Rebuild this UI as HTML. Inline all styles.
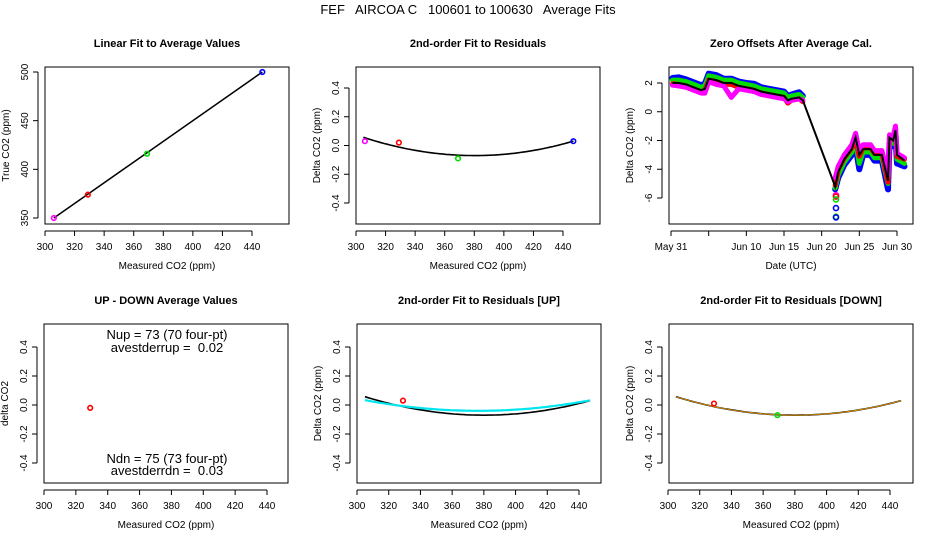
<!DOCTYPE html>
<html><head><meta charset="utf-8"><style>
body{margin:0;background:#fff}
svg{font-family:"Liberation Sans",sans-serif;display:block}
</style></head><body>
<svg id="c" width="936" height="540"></svg>
<script>
// ---- data ----
const calMeasured = [306, 329, 369, 447];
const calTrue = [350, 374, 416, 500];
const calResid = [0.03, 0.02, -0.09, 0.03];
const calColors = ['#ff00ff', '#ff0000', '#00dd00', '#0000ff'];
const fitBlack = [-0.07, -0.0001, 0.0000225];
const fitUp = [-0.04, 0.00005, 0.0000145];
const upPointX = [329];
const upPointY = [0.03];
const downPointX = [329, 369];
const downPointY = [0.01, -0.07];
const diffPointX = [329];
const diffPointY = [-0.02];
const days = [0.2,1,2,3,4,4.5,5,6,7,8,9,10,11,12,13,14,15,15.5,16,17,17.5,21.8,22.2,23,24,24.5,25,25.5,26.5,27,28,28.8,29,29.5,29.8,30,31];
const offBlack = [2.0,2.0,1.9,1.7,1.5,1.6,2.3,2.2,2.0,2.0,1.8,1.7,1.6,1.4,1.3,1.2,1.1,0.8,0.9,1.0,0.8,-5.2,-4.2,-3.3,-2.6,-1.8,-3.0,-2.6,-2.6,-3.0,-3.0,-4.8,-1.8,-2.0,-1.3,-3.0,-3.4];
const offBlue = [2.35,2.4,2.25,2.05,1.85,1.95,2.65,2.55,2.3,2.3,2.1,2.0,1.95,1.7,1.6,1.5,1.4,1.1,1.2,1.35,1.1,-5.4,-4.6,-3.7,-3.0,-2.4,-4.0,-3.0,-3.0,-3.4,-3.4,-5.4,-2.2,-2.4,-1.6,-3.6,-3.8];
const offGreen = [2.2,2.2,2.1,1.9,1.7,1.8,2.5,2.4,2.2,2.2,2.0,1.9,1.8,1.6,1.5,1.4,1.3,1.0,1.1,1.2,1.0,-5.3,-4.4,-3.5,-2.8,-2.1,-3.6,-2.8,-2.8,-3.2,-3.2,-5.0,-2.0,-2.2,-1.5,-3.3,-3.6];
const offRed = [1.95,1.9,1.8,1.6,1.4,1.5,2.2,2.1,1.9,1.9,1.7,1.6,1.5,1.3,1.2,1.1,1.0,0.6,0.8,0.9,0.7,-5.1,-4.0,-3.2,-2.5,-2.0,-3.1,-2.5,-2.5,-2.9,-2.9,-4.9,-1.8,-1.9,-1.4,-3.1,-3.3];
const offMagenta = [1.85,1.8,1.7,1.5,1.3,1.3,2.1,1.9,1.8,1.0,1.6,1.5,1.4,1.2,1.1,1.0,0.9,0.7,0.8,0.9,0.8,-4.6,-3.8,-3.0,-2.3,-1.5,-2.7,-2.3,-2.3,-2.7,-2.7,-4.4,-1.6,-1.7,-1.0,-2.9,-3.2];
const outlierDays = [21.9,21.9,21.9,21.9,21.9,21.9];
const outlierVals = [-5.8,-5.9,-6.1,-6.7,-7.3,-7.35];
const outlierColors = ['#ff00ff','#ff0000','#00dd00','#0000ff','#00dd00','#0000ff'];
const xTicksCO2 = [300,320,340,360,380,400,420,440];
const yTicksTrue = [350,400,450,500];
const yTicksResid = [0.4,0.2,0.0,-0.2,-0.4];
const yTicksResidLbl = ['0.4','0.2','0.0','-0.2','-0.4'];
const yTicksOff = [2,0,-2,-4,-6];
const xTicksDays = [0,5,10,15,20,25,30];
const xTicksDaysLbl = ['May 31','','Jun 10','Jun 15','Jun 20','Jun 25','Jun 30'];

const S = 'http://www.w3.org/2000/svg';
const svg = document.getElementById('c');
function el(tag, attrs, parent){const e=document.createElementNS(S,tag);for(const k in attrs)e.setAttribute(k,attrs[k]);(parent||svg).appendChild(e);return e;}
function lin(d0,d1,p0,p1){return v=>p0+(v-d0)*(p1-p0)/(d1-d0);}

let t = el('text',{x:468,y:14,'text-anchor':'middle','font-size':13,style:'white-space:pre'});
t.textContent='FEF   AIRCOA C   100601 to 100630   Average Fits';



function panel(name, box, title, xlab, ylab, sx, sy, xt, xtl, yt, ytl){
  const g = el('g',{});
  
  
  const r = el('rect',{x:box[0],y:box[1],width:box[2]-box[0],height:box[3]-box[1],fill:'none',stroke:'#000'},g);
  
  
  const tt = el('text',{x:(box[0]+box[2])/2,y:box[1]-20,'text-anchor':'middle','font-size':11,'font-weight':'bold'},g);
  tt.textContent=title;
  
  
  const xl = el('text',{x:(box[0]+box[2])/2,y:box[3]+45,'text-anchor':'middle','font-size':10},g);
  xl.textContent=xlab;
  
  
  const yx = box[0]-36, yy=(box[1]+box[3])/2;
  const yl = el('text',{x:yx,y:yy,'text-anchor':'middle','font-size':10,transform:`rotate(-90 ${yx} ${yy})`},g);
  yl.textContent=ylab;
  
  
  const xa = el('g',{},g);
  
  
  el('line',{x1:sx(xt[0]),x2:sx(xt[xt.length-1]),y1:box[3]+7,y2:box[3]+7,stroke:'#000'},xa);
  xt.forEach((v,i)=>{
    el('line',{x1:sx(v),x2:sx(v),y1:box[3]+7,y2:box[3]+12,stroke:'#000'},xa);
    const l=el('text',{x:sx(v),y:box[3]+26,'text-anchor':'middle','font-size':10},xa);
    l.textContent=xtl[i];
    
    
  });
  const ya = el('g',{},g);
  
  
  el('line',{x1:box[0]-7,x2:box[0]-7,y1:sy(yt[0]),y2:sy(yt[yt.length-1]),stroke:'#000'},ya);
  yt.forEach((v,i)=>{
    el('line',{x1:box[0]-12,x2:box[0]-7,y1:sy(v),y2:sy(v),stroke:'#000'},ya);
    const px=box[0]-17, py=sy(v);
    const l=el('text',{x:px,y:py,'text-anchor':'middle','font-size':10,transform:`rotate(-90 ${px} ${py})`},ya);
    l.textContent=ytl[i];
    
    
  });
  return g;
}
function pt(g,x,y,c,name){
  const p=el('circle',{cx:x,cy:y,r:2.3,fill:'none',stroke:c,'stroke-width':1.6},g);
  
  
}
function curve(g,coef,sx,sy,col,w,name){
  let d='';
  for(let x=305;x<=447;x+=2){const u=x-378;const y=coef[0]+coef[1]*u+coef[2]*u*u;d+=(d?'L':'M')+sx(x).toFixed(1)+','+sy(y).toFixed(1);}
  const p=el('path',{d:d,fill:'none',stroke:col,'stroke-width':w},g);
  
  
}
const co2Lbl = xTicksCO2.map(String);

// Panel 1
{const box=[45,67,289,224];const sx=lin(300,440,45,252),sy=lin(350,500,218,72);
const g=panel('linear-fit-panel',box,'Linear Fit to Average Values','Measured CO2 (ppm)','True CO2 (ppm)',sx,sy,xTicksCO2,co2Lbl,yTicksTrue,yTicksTrue.map(String));
const L=el('line',{x1:sx(calMeasured[0]),y1:sy(calTrue[0]),x2:sx(calMeasured[3]),y2:sy(calTrue[3]),stroke:'#000','stroke-width':1.5},g);


calMeasured.forEach((v,i)=>pt(g,sx(v),sy(calTrue[i]),calColors[i],'cal-point'));}

// Panel 2
{const box=[356,67,600,224];const sx=lin(300,440,356,563),sy=lin(-0.4,0.4,203,88);
const g=panel('residual-fit-panel',box,'2nd-order Fit to Residuals','Measured CO2 (ppm)','Delta CO2 (ppm)',sx,sy,xTicksCO2,co2Lbl,yTicksResid,yTicksResidLbl);
curve(g,fitBlack,sx,sy,'#000',1.6,'fit-curve');
calMeasured.forEach((v,i)=>pt(g,sx(v),sy(calResid[i]),calColors[i],'residual-point'));}

// Panel 3
{const box=[669,67,913,224];const sx=lin(0,30,671,897),sy=lin(-6,2,198,83);
const g=panel('zero-offsets-panel',box,'Zero Offsets After Average Cal.','Date (UTC)','Delta CO2 (ppm)',sx,sy,xTicksDays,xTicksDaysLbl,yTicksOff,yTicksOff.map(String));
[[offBlue,'#0000ff',6,'blue-series'],[offGreen,'#00dd00',5,'green-series'],[offRed,'#ff0000',5,'red-series'],[offMagenta,'#ff00ff',5,'magenta-series']].forEach(s=>{
  let segs=[[]];
  days.forEach((d,i)=>{if(i>0&&d-days[i-1]>2)segs.push([]);segs[segs.length-1].push(sx(d).toFixed(1)+','+sy(s[0][i]).toFixed(1));});
  segs.forEach(sg=>{const p=el('polyline',{points:sg.join(' '),fill:'none',stroke:s[1],'stroke-width':s[2],'stroke-linejoin':'round','stroke-linecap':'round'},g);
    
    });
});
outlierDays.forEach((d,i)=>{const c=el('circle',{cx:sx(d),cy:sy(outlierVals[i]),r:2.5,fill:'none',stroke:outlierColors[i],'stroke-width':1.6},g);
  
  });
const bl=el('polyline',{points:days.map((d,i)=>sx(d).toFixed(1)+','+sy(offBlack[i]).toFixed(1)).join(' '),fill:'none',stroke:'#000','stroke-width':2},g);

}

// Panel 4
{const box=[44,324,288,483];const sx=lin(300,440,44,267),sy=lin(-0.4,0.4,463,347);
const g=panel('up-down-panel',box,'UP - DOWN Average Values','Measured CO2 (ppm)','delta CO2',sx,sy,xTicksCO2,co2Lbl,yTicksResid,yTicksResidLbl);
diffPointX.forEach((v,i)=>pt(g,sx(v),sy(diffPointY[i]),'#ff0000','diff-point'));
[['Nup = 73 (70 four-pt)',339],['avestderrup =  0.02',352],['Ndn = 75 (73 four-pt)',463],['avestderrdn =  0.03',475]].forEach(a=>{
  const tx=el('text',{x:167,y:a[1],'text-anchor':'middle','font-size':13,style:'white-space:pre'},g);
  tx.textContent=a[0];
  
  });}

// Panel 5
{const box=[357,324,601,483];const sx=lin(300,440,357,579),sy=lin(-0.4,0.4,463,347);
const g=panel('residual-up-panel',box,'2nd-order Fit to Residuals [UP]','Measured CO2 (ppm)','Delta CO2 (ppm)',sx,sy,xTicksCO2,co2Lbl,yTicksResid,yTicksResidLbl);
curve(g,fitBlack,sx,sy,'#000',1.6,'fit-curve-all');
curve(g,fitUp,sx,sy,'#00e5ee',2.2,'fit-curve-up');
upPointX.forEach((v,i)=>pt(g,sx(v),sy(upPointY[i]),'#ff0000','up-point'));}

// Panel 6
{const box=[669,324,913,483];const sx=lin(300,440,668,890),sy=lin(-0.4,0.4,463,347);
const g=panel('residual-down-panel',box,'2nd-order Fit to Residuals [DOWN]','Measured CO2 (ppm)','Delta CO2 (ppm)',sx,sy,xTicksCO2,co2Lbl,yTicksResid,yTicksResidLbl);
curve(g,fitBlack,sx,sy,'#000',1.6,'fit-curve-all');
curve(g,fitBlack,sx,sy,'#ffa500',0.8,'fit-curve-down');
downPointX.forEach((v,i)=>pt(g,sx(v),sy(downPointY[i]),i?'#00dd00':'#ff0000','down-point'));}
</script>
</body></html>
